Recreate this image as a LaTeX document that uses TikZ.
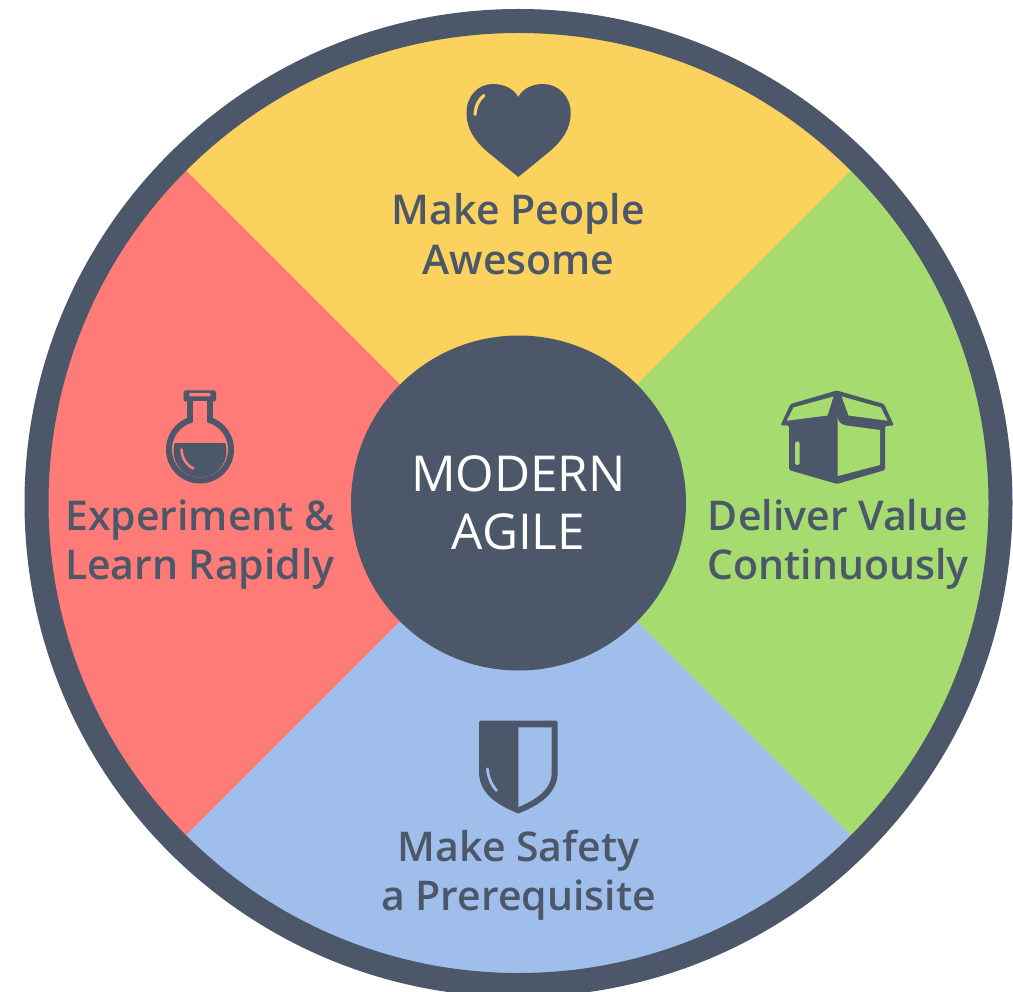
\documentclass[tikz,border=0pt]{standalone}
\usepackage{fontspec}
\setmainfont{Open Sans}
\newfontfamily\semi[UprightFont={* Semibold},BoldFont={* Bold}]{Open Sans}
\definecolor{slate}{HTML}{4C5869}
\definecolor{yel}{HTML}{FCD25E}
\definecolor{rd}{HTML}{FF7B77}
\definecolor{grn}{HTML}{A6DB70}
\definecolor{blu}{HTML}{9FBEEC}
\tikzset{
 lab/.style={text=slate,align=center,font=\semi\fontsize{41}{49.5}\selectfont,inner sep=0pt},
 hub/.style={text=white,align=center,font=\fontsize{49.5}{58}\selectfont,inner sep=0pt},
 ico/.style={fill=slate,draw=none},
}
\begin{document}
\begin{tikzpicture}[x=1pt,y=-1pt]
\useasboundingbox (0,0) rectangle (1013,992);
\clip (0,0) rectangle (1013,992);
\fill[white] (0,0) rectangle (1013,992);
\coordinate (c) at (518.5,503);
\begin{scope}
 \clip (c) circle[radius=480];
 \fill[yel] (c) -- ++(-600,-600) -- ++(1200,0) -- cycle;
 \fill[rd] (c) -- ++(-600,-600) -- ++(0,1200) -- cycle;
 \fill[grn] (c) -- ++(600,-600) -- ++(0,1200) -- cycle;
 \fill[blu] (c) -- ++(-600,600) -- ++(1200,0) -- cycle;
\end{scope}
\draw[slate,line width=24pt] (c) circle[radius=482];
\node[circle,fill=slate,minimum size=335pt,inner sep=0pt] (hubc) at (c) {};
\node[hub] (hubt) at (518.5,503) {MODERN\\AGILE};
\node[lab] (t1) at (518.5,234) {Make People\\Awesome};
\node[lab] (t2) at (200,544.5) {Experiment \&\\Learn Rapidly};
\node[lab] (t3) at (838,544.5) {Deliver Value\\Continuously};
\node[lab] (t4) at (518.5,875) {Make Safety\\a Prerequisite};
% heart
\fill[ico] (518.3,97) .. controls (513,88) and (503,84) .. (493,84)
 .. controls (478,84) and (466.5,96) .. (466.5,113)
 .. controls (466.5,129) and (475,141) .. (487,151.5)
 -- (518.3,177) -- (549.5,151.5)
 .. controls (562,141) and (570.7,129) .. (570.7,113)
 .. controls (570.7,96) and (558,84) .. (543,84)
 .. controls (533,84) and (523,88) .. (518.3,97) -- cycle;
\draw[yel,line width=3.2pt,line cap=round] (484,95.5) .. controls (479,99) and (475.5,106) .. (475,114.5);
% flask
\fill[ico,rounded corners=2pt] (183.5,390.5) rectangle (216,401.5);
\fill[rd,rounded corners=1pt] (189,393) rectangle (210.5,396.5);
\fill[ico] (200,449.5) circle[radius=34];
\fill[rd] (200,449.5) circle[radius=28];
\fill[rd] (193,401) rectangle (207,425);
\fill[ico] (187,400) rectangle (193,422);
\fill[ico] (207,400) rectangle (213,422);
\begin{scope}
 \clip (170,444) rectangle (230,485);
 \fill[ico] (200,451) circle[radius=26.5];
\end{scope}
\draw[rd,line width=2.5pt,line cap=round] (181.5,449.5) .. controls (182,458) and (186,465) .. (193.5,468.5);
% box
\fill[ico,rounded corners=1.5pt] (836.7,390.5) -- (884,404) -- (894,425.5) -- (885,426) -- (885,470) -- (837,484) -- (789,470) -- (789,425.5) -- (780.5,425.5) -- (790.5,404) -- cycle;
\fill[grn] (833.5,396.5) -- (827.5,415.5) -- (786.7,420.7) -- (793.5,407.5) -- cycle;
\fill[grn] (841.7,396.5) -- (848.5,415.5) -- (887.5,420.7) -- (881,407.5) -- cycle;
\fill[grn] (837.7,476) -- (880,465) -- (880,430) -- (846.5,425.5) .. controls (841,424.5) and (838,422) .. (837.7,417.5) -- cycle;
\fill[grn,rounded corners=1.5pt] (795,441.5) rectangle (799.5,465);
% shield
\fill[ico] (481,720.5) -- (555.7,720.5) .. controls (557,720.5) and (557.7,721.5) .. (557.7,723)
 -- (557.7,772) .. controls (557.7,795) and (537,806) .. (518.3,813.5)
 .. controls (500,806) and (479,795) .. (479,772) -- (479,723)
 .. controls (479,721.5) and (480,720.5) .. (481,720.5) -- cycle;
\fill[blu] (518.3,727.3) -- (551.7,727.3) -- (551.7,772) .. controls (551.7,790) and (535,800) .. (518.3,807) -- cycle;
\draw[blu,line width=2.8pt,line cap=round] (487.5,769) .. controls (488,777) and (491,784) .. (496.5,790.5);
\end{tikzpicture}
\end{document}
